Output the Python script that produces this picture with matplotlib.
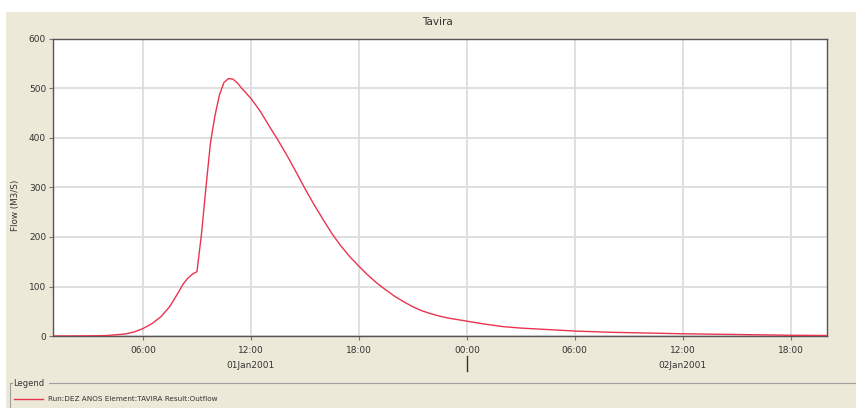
import matplotlib
matplotlib.use("Agg")
import matplotlib.pyplot as plt
from matplotlib.patches import Rectangle
from matplotlib.lines import Line2D

# hours since 01Jan2001 00:00
hours = [1, 2, 3, 3.5, 4, 4.5, 5, 5.5, 6, 6.5, 7, 7.5, 8, 8.25, 8.5, 8.75, 9,
         9.25, 9.5, 9.75, 10, 10.25, 10.5, 10.75, 11, 11.25, 11.5, 12, 12.5,
         13, 13.5, 14, 14.5, 15, 15.5, 16, 16.5, 17, 17.5, 18, 18.5, 19, 19.5,
         20, 20.5, 21, 21.5, 22, 22.5, 23, 23.5, 24, 25, 26, 27, 28, 30, 32,
         34, 36, 38, 40, 42, 44]
flow = [0, 0, 0.3, 0.6, 1, 2.5, 4, 8, 15, 25, 39, 60, 90, 106, 117, 125, 130,
        205, 300, 390, 445, 487, 512, 520, 519, 511, 500, 480, 455,
        425, 396, 365, 332, 298, 266, 236, 207, 182, 160, 141, 123, 107, 93,
        80, 69, 59, 51, 45, 40, 36, 33, 30, 24, 19, 16, 14, 10, 7.5,
        6, 4.5, 3.5, 2.5, 1.5, 1]

yticks = [0, 100, 200, 300, 400, 500, 600]
xtick_pos = [6, 12, 18, 24, 30, 36, 42]
xtick_labels = ["06:00", "12:00", "18:00", "00:00", "06:00", "12:00", "18:00"]
day_labels = ["01Jan2001", "02Jan2001"]
day_pos = [12, 36]
title = "Tavira"
ylabel = "Flow (M3/S)"
legend_label = "Run:DEZ ANOS Element:TAVIRA Result:Outflow"

W, H = 856, 408
fig = plt.figure(figsize=(W / 100, H / 100), dpi=100)
fig.patch.set_facecolor("white")
beige = "#ECE9D8"
fig.add_artist(Rectangle((6 / W, 0), 1 - 6 / W, 1 - 12 / H, transform=fig.transFigure,
                         facecolor=beige, edgecolor="none", zorder=0))

L, R, T, B = 53, 826.7, 39, 336
ax = fig.add_axes([L / W, 1 - B / H, (R - L) / W, (B - T) / H])
ax.set_facecolor("white")
ax.plot(hours, flow, color="#E8354F", lw=1.0, zorder=3)
ax.set_xlim(1, 44)
ax.set_ylim(0, 600)
ax.set_yticks(yticks)
ax.set_xticks(xtick_pos)
ax.set_xticklabels(xtick_labels)
ax.grid(True, color="#DDDDDD", lw=1.3)
ax.set_axisbelow(True)
for s in ax.spines.values():
    s.set_color("#555555")
    s.set_linewidth(1.0)
ax.tick_params(axis="both", direction="out", length=3, width=0.8, color="#777777",
               labelsize=6.5, labelcolor="#333333", pad=2)
ax.tick_params(axis="x", pad=4)

tr = ax.get_xaxis_transform()
for p, lab in zip(day_pos, day_labels):
    ax.text(p, -0.1, lab, transform=tr, ha="center", va="center",
            fontsize=6.5, color="#333333")
# day separator mark under 00:00
ax.add_artist(Line2D([24, 24], [-0.068, -0.118], transform=tr, color="#333333",
                     lw=1.0, clip_on=False))

fig.text(437 / W, 1 - 22 / H, title, ha="center", va="center", fontsize=7.5, color="#333333")
fig.text(16 / W, 1 - 205 / H, ylabel, ha="center", va="center", rotation=90,
         fontsize=6.3, color="#333333")

# legend group box
gy = 1 - 383 / H
fig.add_artist(Line2D([10 / W, 12 / W], [gy, gy], color="#A0A0A0", lw=0.8))
fig.add_artist(Line2D([49 / W, 1], [gy, gy], color="#A0A0A0", lw=0.8))
fig.add_artist(Line2D([10 / W, 10 / W], [gy, 0], color="#A0A0A0", lw=0.8))
fig.text(13 / W, gy, "Legend", ha="left", va="center", fontsize=6, color="#333333")
ly = 1 - 399 / H
fig.add_artist(Line2D([14 / W, 43 / W], [ly, ly], color="#E8354F", lw=1.0))
fig.text(48 / W, ly, legend_label, ha="left", va="center", fontsize=5.2, color="#333333")

fig.savefig("out.png", dpi=100)
